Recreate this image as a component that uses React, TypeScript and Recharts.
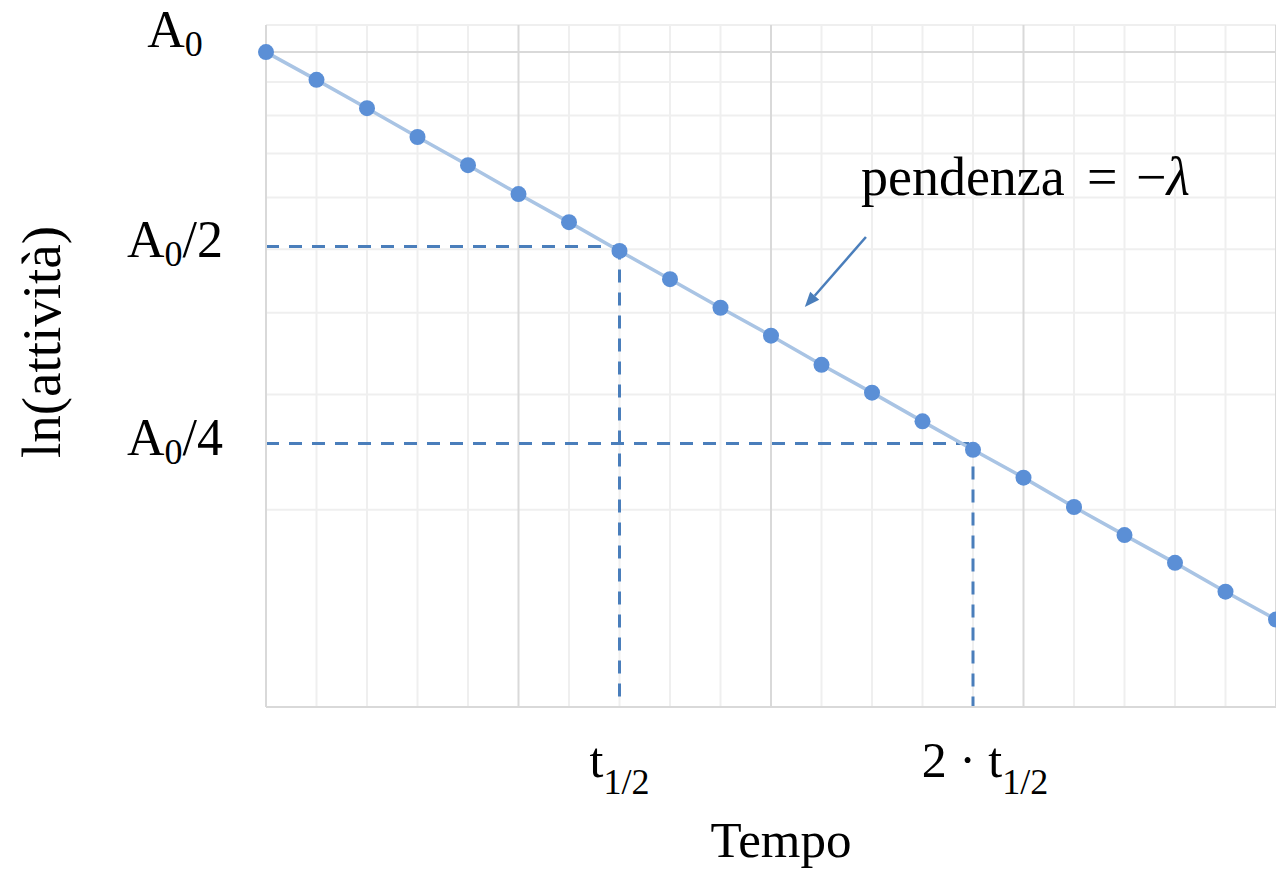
import { LineChart, Line, XAxis, YAxis, ReferenceLine } from 'recharts';

const times = [0, 1, 2, 3, 4, 5, 6, 7, 8, 9, 10, 11, 12, 13, 14, 15, 16, 17, 18, 19, 20];
const activity = [10, 9.07, 8.21, 7.42, 6.72, 6.07, 5.5, 4.97, 4.5, 4.07, 3.69, 3.33, 3.02, 2.73, 2.47, 2.24, 2.02, 1.83, 1.66, 1.5, 1.36];

const xMajorGrid = [5, 10, 15, 20];
const xMinorGrid = [1, 2, 3, 4, 6, 7, 8, 9, 11, 12, 13, 14, 16, 17, 18, 19];
const yMajorGrid = [10];
const yMinorGrid = [2, 3, 4, 5, 6, 7, 8, 9, 11];

// levels of the dashed guides
const halfLevel = 5.05;
const quarterLevel = 2.525;
const halfTime = 7;
const doubleHalfTime = 14;

const yTicks = [10, halfLevel, quarterLevel];
const yTickLabels: { [k: string]: string } = {
  '10': '',
  [String(halfLevel)]: '/2',
  [String(quarterLevel)]: '/4',
};
const xTicks = [halfTime, doubleHalfTime];

// arrow pointing at the line (from -> to)
const arrowFrom = { x: 11.88, y: 5.22 };
const arrowTo = { x: 10.67, y: 4.08 };

const data = times.map((t, i) => ({ t, a: activity[i] }));

const FONT = '"Liberation Serif", "DejaVu Serif", serif';
const BLUE = '#4a7ebb';

const YTick = (props: any) => {
  const { x, y, payload } = props;
  const suffix = yTickLabels[String(payload.value)] || '';
  const dy = payload.value === 10 ? -5 : 11;
  return (
    <text x={x - 91} y={y + dy} textAnchor="middle" fontFamily={FONT} fontSize={52} fill="#000">
      A
      <tspan fontSize={36} dy={9}>0</tspan>
      {suffix && <tspan dy={-9}>{suffix}</tspan>}
    </text>
  );
};

const XTick = (props: any) => {
  const { x, y, payload } = props;
  const isDouble = payload.value === doubleHalfTime;
  return (
    <text x={x + (isDouble ? 12 : 0)} y={y + 70} textAnchor="middle" fontFamily={FONT} fontSize={50} fill="#000">
      {isDouble ? '2 · t' : 't'}
      <tspan fontSize={36} dy={17}>1/2</tspan>
    </text>
  );
};

const Arrow = (props: any) => {
  const { x1, y1, x2, y2 } = props;
  const ang = Math.atan2(y2 - y1, x2 - x1);
  const len = 15;
  const half = 6;
  const bx = x2 - len * Math.cos(ang);
  const by = y2 - len * Math.sin(ang);
  const px = -Math.sin(ang) * half;
  const py = Math.cos(ang) * half;
  return (
    <g>
      <line x1={x1} y1={y1} x2={bx} y2={by} stroke={BLUE} strokeWidth={2.5} />
      <polygon points={`${x2},${y2} ${bx + px},${by + py} ${bx - px},${by - py}`} fill={BLUE} />
      <text x={x1 - 5} y={y1 - 42} fontFamily={FONT} fontSize={54} fill="#000">pendenza</text>
      <text x={x1 + 221} y={y1 - 42} fontFamily={FONT} fontSize={54} fill="#000">=</text>
      <text x={x1 + 270} y={y1 - 42} fontFamily={FONT} fontSize={54} fill="#000">
        −<tspan fontStyle="italic">λ</tspan>
      </text>
    </g>
  );
};

const Dot = (props: any) => {
  const { cx, cy, index } = props;
  if (cx == null || cy == null) return null;
  return <circle key={'d' + index} cx={cx} cy={cy} r={8} fill="#5b8fd6" />;
};

export default function App() {
  return (
    <div style={{ position: 'fixed', left: 0, top: 0, width: 1276, height: 874, overflow: 'hidden', background: '#fff' }}>
      <LineChart width={1300} height={874} data={data} margin={{ top: 25, right: 24, bottom: 0, left: 0 }}>
        <XAxis
          dataKey="t"
          type="number"
          domain={[0, 20]}
          ticks={xTicks}
          interval={0}
          tick={<XTick />}
          tickLine={false}
          tickSize={0}
          tickMargin={0}
          height={167}
          axisLine={{ stroke: '#d9d9d9', strokeWidth: 2 }}
          label={() => (
            <text x={781} y={857} textAnchor="middle" fontFamily={FONT} fontSize={51} fill="#000">Tempo</text>
          )}
        />
        <YAxis
          type="number"
          scale="log"
          domain={[1, 11]}
          allowDataOverflow
          ticks={yTicks}
          interval={0}
          tick={<YTick />}
          tickLine={false}
          tickSize={0}
          tickMargin={0}
          width={266}
          axisLine={{ stroke: '#d9d9d9', strokeWidth: 2 }}
          label={() => (
            <text x={60} y={342} transform="rotate(-90, 60, 342)" textAnchor="middle" fontFamily={FONT} fontSize={55} fill="#000">
              ln(attività)
            </text>
          )}
        />
        {yMinorGrid.map(v => (
          <ReferenceLine key={'ym' + v} y={v} stroke="#efefef" strokeWidth={2} />
        ))}
        {xMinorGrid.map(v => (
          <ReferenceLine key={'xm' + v} x={v} stroke="#efefef" strokeWidth={2} />
        ))}
        {yMajorGrid.map(v => (
          <ReferenceLine key={'yM' + v} y={v} stroke="#d9d9d9" strokeWidth={2} />
        ))}
        {xMajorGrid.map(v => (
          <ReferenceLine key={'xM' + v} x={v} stroke="#d9d9d9" strokeWidth={2} />
        ))}
        <ReferenceLine segment={[{ x: 0, y: halfLevel }, { x: halfTime, y: halfLevel }]} stroke={BLUE} strokeWidth={3} strokeDasharray="13 10" />
        <ReferenceLine segment={[{ x: halfTime, y: halfLevel }, { x: halfTime, y: 1 }]} stroke={BLUE} strokeWidth={3} strokeDasharray="13 10" />
        <ReferenceLine segment={[{ x: 0, y: quarterLevel }, { x: doubleHalfTime, y: quarterLevel }]} stroke={BLUE} strokeWidth={3} strokeDasharray="13 10" />
        <ReferenceLine segment={[{ x: doubleHalfTime, y: quarterLevel }, { x: doubleHalfTime, y: 1 }]} stroke={BLUE} strokeWidth={3} strokeDasharray="13 10" />
        <ReferenceLine segment={[arrowFrom, arrowTo]} shape={<Arrow />} />
        <Line
          type="linear"
          dataKey="a"
          stroke="#a9c4e4"
          strokeWidth={3.5}
          dot={<Dot />}
          activeDot={false}
          isAnimationActive={false}
        />
      </LineChart>
    </div>
  );
}
